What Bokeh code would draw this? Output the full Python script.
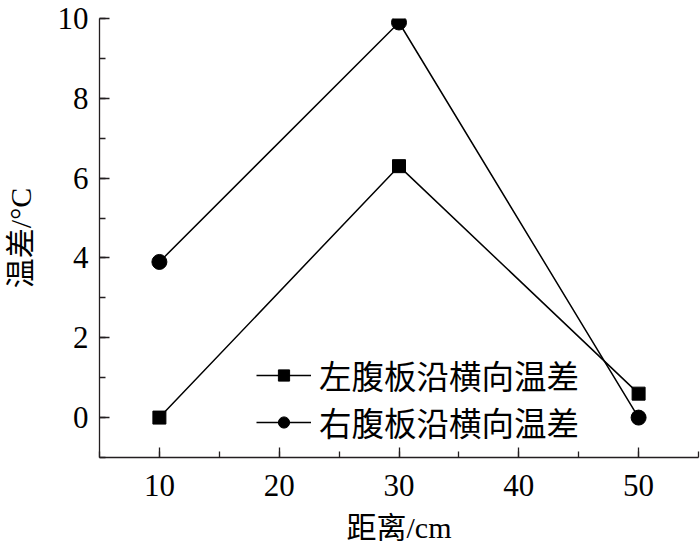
from bokeh.plotting import figure
from bokeh.models import SingleIntervalTicker, Range1d, Legend
from bokeh.embed import file_html
from bokeh.resources import INLINE

# data
distance = [10, 30, 50]
left_web = [0.0, 6.3, 0.6]
right_web = [3.9, 9.9, 0.0]
left_label = "左腹板沿横向温差"
right_label = "右腹板沿横向温差"
x_title = "距离/cm"
y_title = "温差/°C"

INK = "#231F20"
SERIF = "'Liberation Serif', 'Noto Sans CJK SC'"

p = figure(width=700, height=546, output_backend="svg", toolbar_location=None,
           x_range=Range1d(5, 55), y_range=Range1d(-1, 10),
           min_border_left=96, min_border_right=2, min_border_top=18, min_border_bottom=89)
p.outline_line_color = None
p.xgrid.visible = False
p.ygrid.visible = False
p.background_fill_color = "white"
p.border_fill_color = "white"

p.xaxis.ticker = SingleIntervalTicker(interval=10, num_minor_ticks=2)
p.yaxis.ticker = SingleIntervalTicker(interval=2, num_minor_ticks=2)

for ax in (p.xaxis[0], p.yaxis[0]):
    ax.axis_line_color = INK
    ax.axis_line_width = 1.3
    ax.major_tick_line_color = INK
    ax.minor_tick_line_color = INK
    ax.major_tick_line_width = 1.3
    ax.minor_tick_line_width = 1.3
    ax.major_tick_in = 10
    ax.major_tick_out = 0
    ax.minor_tick_in = 6
    ax.minor_tick_out = 0
    ax.major_label_text_font = "Liberation Serif"
    ax.major_label_text_font_size = "31px"
    ax.major_label_text_color = "black"
    ax.axis_label_text_font = SERIF
    ax.axis_label_text_font_size = "30px"
    ax.axis_label_text_font_style = "normal"
    ax.axis_label_text_color = "black"

p.xaxis.axis_label = x_title
p.yaxis.axis_label = y_title
p.xaxis.major_label_standoff = 17
p.yaxis.major_label_standoff = 11
p.xaxis.axis_label_standoff = 12
p.yaxis.axis_label_standoff = 18

l1 = p.line(distance, left_web, line_color="black", line_width=1.5)
s1 = p.scatter(distance, left_web, marker="square", size=13, fill_color="black", line_color="black")
l2 = p.line(distance, right_web, line_color="black", line_width=1.5)
s2 = p.scatter(distance, right_web, marker="circle", size=15, fill_color="black", line_color="black")

legend = Legend(items=[(left_label, [l1, s1]), (right_label, [l2, s2])],
                location=(157, 12), orientation="vertical",
                glyph_width=55, glyph_height=28, label_height=28, spacing=-8,
                padding=0, margin=0, label_standoff=8,
                border_line_color=None, background_fill_alpha=0,
                label_text_font="Noto Sans CJK SC", label_text_font_size="32.5px",
                label_text_color="black")
p.add_layout(legend)

open("out.html", "w").write(file_html(p, INLINE))
